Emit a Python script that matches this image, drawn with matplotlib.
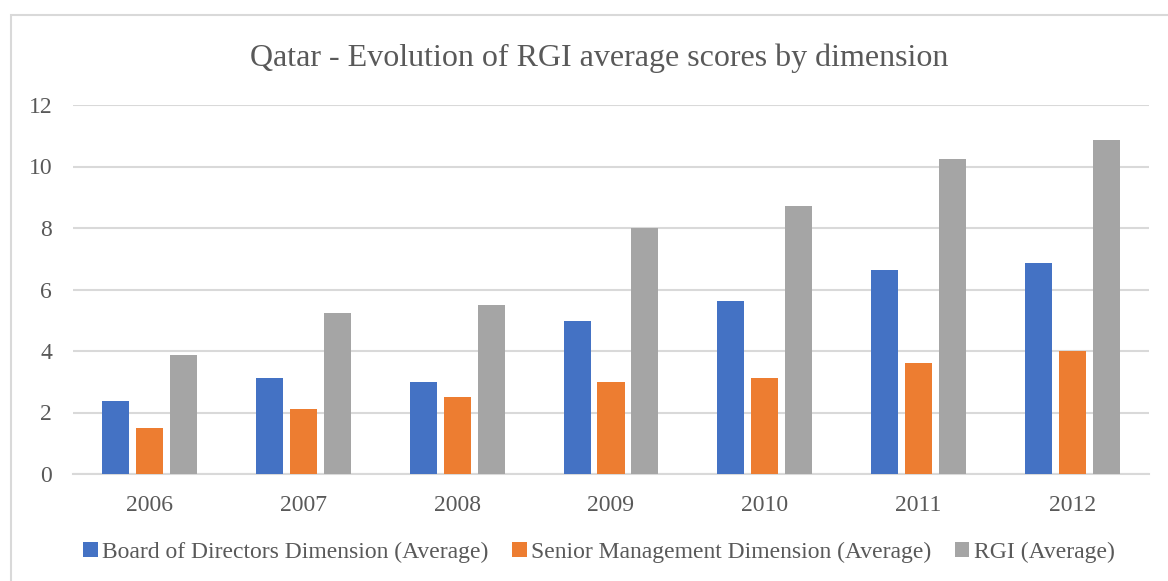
import numpy as np
import matplotlib.pyplot as plt
from matplotlib.patches import Rectangle

# --- Data ---
years = ['2006', '2007', '2008', '2009', '2010', '2011', '2012']
board = [2.37, 3.11, 2.98, 4.98, 5.61, 6.63, 6.86]
senior = [1.49, 2.11, 2.50, 2.98, 3.11, 3.61, 3.99]
rgi = [3.86, 5.23, 5.49, 7.99, 8.72, 10.25, 10.87]
series_names = ['Board of Directors Dimension (Average)',
                'Senior Management Dimension (Average)',
                'RGI (Average)']

colors = ['#4472C4', '#ED7D31', '#A5A5A5']
txt = '#595959'

plt.rcParams['font.family'] = ['Liberation Serif', 'DejaVu Serif']

fig = plt.figure(figsize=(11.68, 5.81), dpi=100)
ax = fig.add_axes([73 / 1168, 1 - 474 / 581, (1149 - 73) / 1168, (474 - 105) / 581])

# chart border
fig.patches.append(Rectangle((11 / 1168, -0.1), 1.2, 1 - 15 / 581 + 0.1,
                             transform=fig.transFigure, fill=False,
                             edgecolor='#D9D9D9', lw=1.5))

x = np.arange(len(years))
w = 0.176
off = 0.221
for i, vals in enumerate([board, senior, rgi]):
    ax.bar(x + (i - 1) * off, vals, width=w, color=colors[i],
           label=series_names[i], zorder=3)

ax.set_xlim(-0.5, len(years) - 0.5)
ax.set_ylim(0, 12)
ax.set_yticks(range(0, 13, 2))
ax.set_xticks(x)
ax.set_xticklabels(years)
ax.grid(axis='y', color='#D9D9D9', lw=1.5, zorder=0)
for s in ['top', 'right', 'left']:
    ax.spines[s].set_visible(False)
ax.spines['bottom'].set_color('#D9D9D9')
ax.spines['bottom'].set_linewidth(1.5)
ax.tick_params(axis='both', length=0, labelsize=17, colors=txt)
ax.tick_params(axis='x', pad=15)
ax.tick_params(axis='y', pad=15)

fig.text(0.513, 1 - 58 / 581, 'Qatar - Evolution of RGI average scores by dimension',
         ha='center', va='center', fontsize=23, color=txt)

leg = fig.legend(loc='center', bbox_to_anchor=(0.513, 1 - 552 / 581), ncol=3,
                 frameon=False, fontsize=17, handlelength=0.6, handleheight=0.6,
                 handletextpad=0.2, columnspacing=1.0, labelcolor=txt)

fig.savefig('out.png', dpi=100)
